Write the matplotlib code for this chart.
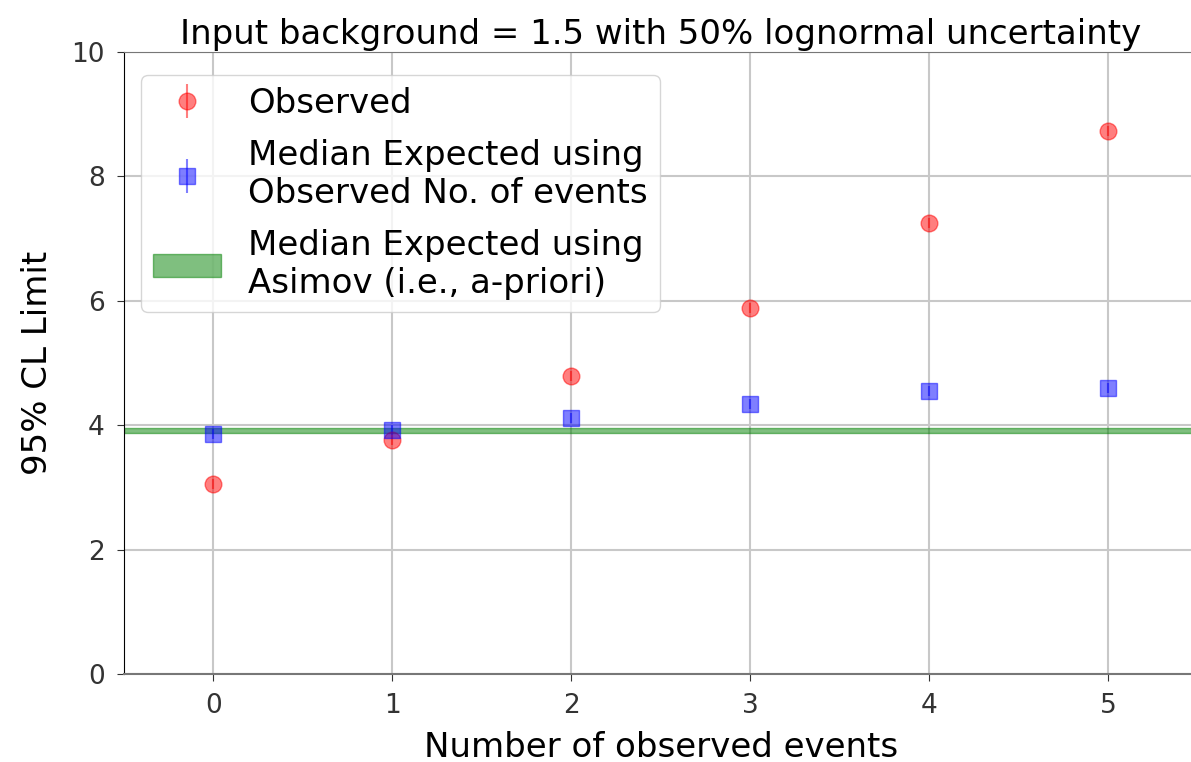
import matplotlib
matplotlib.use("Agg")
import matplotlib.pyplot as plt
import numpy as np

# data
n_obs = [0, 1, 2, 3, 4, 5]
observed = [3.05, 3.76, 4.79, 5.88, 7.25, 8.73]
observed_err = [0.08, 0.08, 0.08, 0.08, 0.08, 0.08]
expected = [3.86, 3.92, 4.12, 4.34, 4.55, 4.60]
expected_err = [0.08, 0.08, 0.08, 0.08, 0.08, 0.08]
asimov_lo, asimov_hi = 3.87, 3.95

fig = plt.figure(figsize=(11.91, 7.62), dpi=100)
ax = fig.add_axes([124 / 1191, 1 - 674 / 762, (1197.5 - 124) / 1191, (674 - 52) / 762])

h1 = ax.errorbar(n_obs, observed, yerr=observed_err, fmt='o', color='red', alpha=0.5,
                 markersize=12, label='Observed')
h2 = ax.errorbar(n_obs, expected, yerr=expected_err, fmt='s', color='blue', alpha=0.5,
                 markersize=12, label='Median Expected using\nObserved No. of events')
h3 = ax.axhspan(asimov_lo, asimov_hi, color='green', alpha=0.5,
                label='Median Expected using\nAsimov (i.e., a-priori)')

ax.set_xlim(-0.5, 5.5)
ax.set_ylim(0, 10)
ax.set_xticks(n_obs)
ax.set_yticks([0, 2, 4, 6, 8, 10])
ax.grid(True, color='#c8c8c8', linewidth=1.5)
ax.set_axisbelow(True)
ax.tick_params(labelsize=19, length=5, pad=9, colors='#333333')
for s in ['top', 'right', 'bottom']:
    ax.spines[s].set_color('#777777')
ax.spines['bottom'].set_linewidth(1.5)
ax.set_xlabel('Number of observed events', fontsize=24.5, labelpad=8)
ax.set_ylabel('95% CL Limit', fontsize=24.5, labelpad=12)
ax.set_title('Input background = 1.5 with 50% lognormal uncertainty', fontsize=24.5, pad=6)
ax.legend([h1, h2, h3], [h1.get_label(), h2.get_label(), h3.get_label()],
          loc='upper left', fontsize=24.5, bbox_to_anchor=(0.0, 0.99),
          handletextpad=0.8, labelspacing=0.55, borderpad=0.35)

plt.savefig('out.png', dpi=100)
